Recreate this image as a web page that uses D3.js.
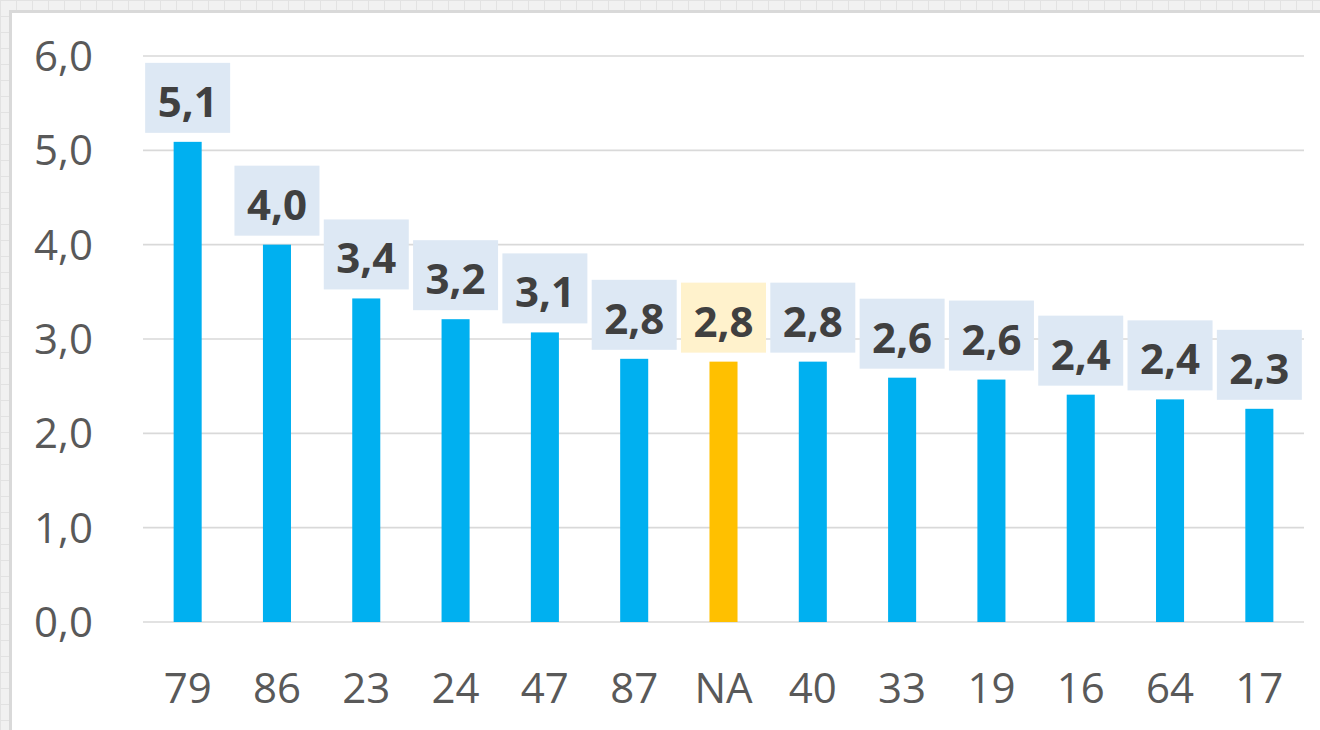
<!DOCTYPE html>
<html>
<head>
<meta charset="utf-8">
<script src="https://cdn.jsdelivr.net/npm/d3@7"></script>
<style>
  html, body { margin: 0; padding: 0; background: #f2f2f2; }
  svg { display: block; }
</style>
</head>
<body>
<svg id="main" width="1320" height="730"></svg>
<script>
const categories = ["79", "86", "23", "24", "47", "87", "NA", "40", "33", "19", "16", "64", "17"];
const values = [5.09, 4.0, 3.43, 3.21, 3.07, 2.79, 2.76, 2.76, 2.59, 2.57, 2.41, 2.36, 2.26];
const labels = ["5,1", "4,0", "3,4", "3,2", "3,1", "2,8", "2,8", "2,8", "2,6", "2,6", "2,4", "2,4", "2,3"];
const yTicks = [0, 1, 2, 3, 4, 5, 6];
const highlight = "NA";

const svg = d3.select("#main");
const font = "'Open Sans', 'Noto Sans', sans-serif";

// spreadsheet cells behind the chart
const defs = svg.append("defs");
const pat = defs.append("pattern")
  .attr("id", "cells").attr("width", 16).attr("height", 16)
  .attr("patternUnits", "userSpaceOnUse");
pat.append("rect").attr("width", 16).attr("height", 16).attr("fill", "#f1f1f1");
pat.append("path").attr("d", "M0,0.5H16M0.5,0V16").attr("stroke", "#e2e2e2").attr("stroke-width", 1);
svg.append("rect").attr("width", 1320).attr("height", 730).attr("fill", "url(#cells)");

// chart area
svg.append("rect").attr("x", 9).attr("y", 10).attr("width", 1320).attr("height", 730)
  .attr("fill", "#d9d9d9");
svg.append("rect").attr("x", 12).attr("y", 13).attr("width", 1320).attr("height", 730)
  .attr("fill", "#ffffff");

const x = d3.scaleBand().domain(categories).range([143, 1304]).paddingInner(0.686).paddingOuter(0.343);
const y = d3.scaleLinear().domain([0, 6]).range([622, 56]);

// gridlines
svg.append("g").selectAll("line")
  .data(yTicks)
  .join("line")
  .attr("x1", 143).attr("x2", 1304)
  .attr("y1", d => y(d)).attr("y2", d => y(d))
  .attr("stroke", "#d9d9d9").attr("stroke-width", 1.6);

// y tick labels
svg.append("g").selectAll("text")
  .data(yTicks)
  .join("text")
  .attr("x", 93).attr("y", d => y(d) + 15)
  .attr("text-anchor", "end")
  .attr("font-family", font).attr("font-size", 42)
  .attr("fill", "#595959")
  .text(d => d3.format(".1f")(d).replace(".", ","));

// x labels
svg.append("g").selectAll("text")
  .data(categories)
  .join("text")
  .attr("x", d => x(d) + x.bandwidth() / 2)
  .attr("y", 703)
  .attr("text-anchor", "middle")
  .attr("font-family", font).attr("font-size", 42)
  .attr("fill", "#595959")
  .text(d => d);

// bars
svg.append("g").selectAll("rect")
  .data(categories)
  .join("rect")
  .attr("x", d => x(d))
  .attr("width", x.bandwidth())
  .attr("y", (d, i) => y(values[i]))
  .attr("height", (d, i) => y(0) - y(values[i]))
  .attr("fill", d => d === highlight ? "#ffc000" : "#00b0f0");

// data labels with boxes
const boxW = 85, boxH = 70;
const lab = svg.append("g").selectAll("g")
  .data(categories)
  .join("g")
  .attr("transform", (d, i) => `translate(${x(d) + x.bandwidth() / 2},${y(values[i]) - 9})`);
lab.append("rect")
  .attr("x", -boxW / 2).attr("y", -boxH)
  .attr("width", boxW).attr("height", boxH)
  .attr("fill", d => d === highlight ? "#fff2cc" : "#dde8f4");
lab.append("text")
  .attr("x", 0).attr("y", -16)
  .attr("text-anchor", "middle")
  .attr("font-family", font).attr("font-size", 42).attr("font-weight", "bold")
  .attr("fill", "#404040")
  .text((d, i) => labels[i]);
</script>
</body>
</html>
